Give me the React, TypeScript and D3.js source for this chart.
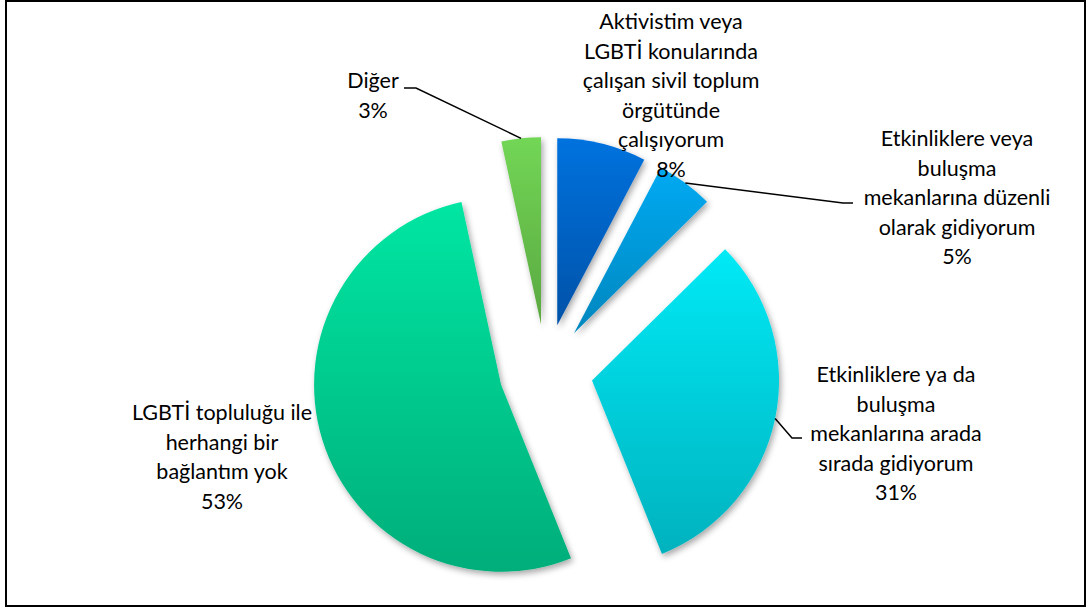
import React from "react";
import * as d3 from "d3";

const categories = [
  "Aktivistim veya LGBTİ konularında çalışan sivil toplum örgütünde çalışıyorum",
  "Etkinliklere veya buluşma mekanlarına düzenli olarak gidiyorum",
  "Etkinliklere ya da buluşma mekanlarına arada sırada gidiyorum",
  "LGBTİ topluluğu ile herhangi bir bağlantım yok",
  "Diğer",
];
const values = [7.7, 4.9, 31.3, 52.7, 3.4];
const labelLines = [
  ["Aktivistim veya", "LGBTİ konularında", "çalışan sivil toplum", "örgütünde", "çalışıyorum"],
  ["Etkinliklere veya", "buluşma", "mekanlarına düzenli", "olarak gidiyorum"],
  ["Etkinliklere ya da", "buluşma", "mekanlarına arada", "sırada gidiyorum"],
  ["LGBTİ topluluğu ile", "herhangi bir", "bağlantım yok"],
  ["Diğer"],
];
const gradTop = ["#0072DE", "#00AAF2", "#00EAF6", "#00E6A2", "#72D656"];
const gradBottom = ["#0052A8", "#0086BE", "#00B2BE", "#00AE7A", "#5AA840"];

// layout (not data)
const W = 1088;
const H = 610;
const CX = 546;
const CY = 371;
const R = 187;
const EXPLODE = 47;
const LINE_H = 29.5;
const labelLayout = [
  { x: 671, y: 21 },
  { x: 957, y: 138 },
  { x: 896, y: 374 },
  { x: 222, y: 412 },
  { x: 373, y: 80 },
];
// leader end points at label side (null = no leader)
const leaderLabelEnd: ([number, number][] | null)[] = [
  null,
  [[843, 203], [853, 203]],
  [[792, 438], [802, 438]],
  null,
  [[416, 88], [404, 88]],
];

export default function App() {
  const pie = d3.pie<number>().sort(null).value((d) => d).startAngle(0).endAngle(2 * Math.PI);
  const arcs = pie(values);
  const arcGen = d3.arc<d3.PieArcDatum<number>>().innerRadius(0).outerRadius(R);

  return (
    <svg width={W} height={H} style={{ display: "block", position: "absolute", left: 0, top: 0 }}>
      <defs>
        {values.map((_, i) => (
          <linearGradient key={i} id={`g${i}`} x1="0" y1="0" x2="0" y2="1">
            <stop offset="0" stopColor={gradTop[i]} />
            <stop offset="1" stopColor={gradBottom[i]} />
          </linearGradient>
        ))}
        <filter id="sh" x="-20%" y="-20%" width="140%" height="140%">
          <feDropShadow dx="2" dy="3" stdDeviation="3" floodColor="#000" floodOpacity="0.35" />
        </filter>
      </defs>
      <rect x={0} y={0} width={W} height={H} fill="#fff" />
      <rect x={6} y={1} width={1079} height={605} fill="none" stroke="#000" strokeWidth={2} />
      {arcs.map((a, i) => {
        const mid = (a.startAngle + a.endAngle) / 2;
        const ox = CX + EXPLODE * Math.sin(mid);
        const oy = CY - EXPLODE * Math.cos(mid);
        return (
          <path
            key={i}
            d={arcGen(a) || ""}
            transform={`translate(${ox},${oy})`}
            fill={`url(#g${i})`}
            filter="url(#sh)"
          >
            <title>{categories[i]}</title>
          </path>
        );
      })}
      {arcs.map((a, i) => {
        const pts = leaderLabelEnd[i];
        if (!pts) return null;
        const mid = (a.startAngle + a.endAngle) / 2;
        const sx = CX + (EXPLODE + R) * Math.sin(mid);
        const sy = CY - (EXPLODE + R) * Math.cos(mid);
        const line = d3.line()([[sx, sy], ...pts]);
        return <path key={`l${i}`} d={line || ""} fill="none" stroke="#000" strokeWidth={1.5} />;
      })}
      {arcs.map((a, i) => {
        const lines = [...labelLines[i], `${Math.round(values[i])}%`];
        const pos = labelLayout[i];
        return (
          <text
            key={`t${i}`}
            x={pos.x}
            textAnchor="middle"
            fontFamily="Lato, 'Open Sans', sans-serif"
            fontSize={21.5}
            fill="#000"
          >
            {lines.map((ln, j) => (
              <tspan key={j} x={pos.x} y={pos.y + j * LINE_H} dominantBaseline="central">
                {ln}
              </tspan>
            ))}
          </text>
        );
      })}
    </svg>
  );
}
